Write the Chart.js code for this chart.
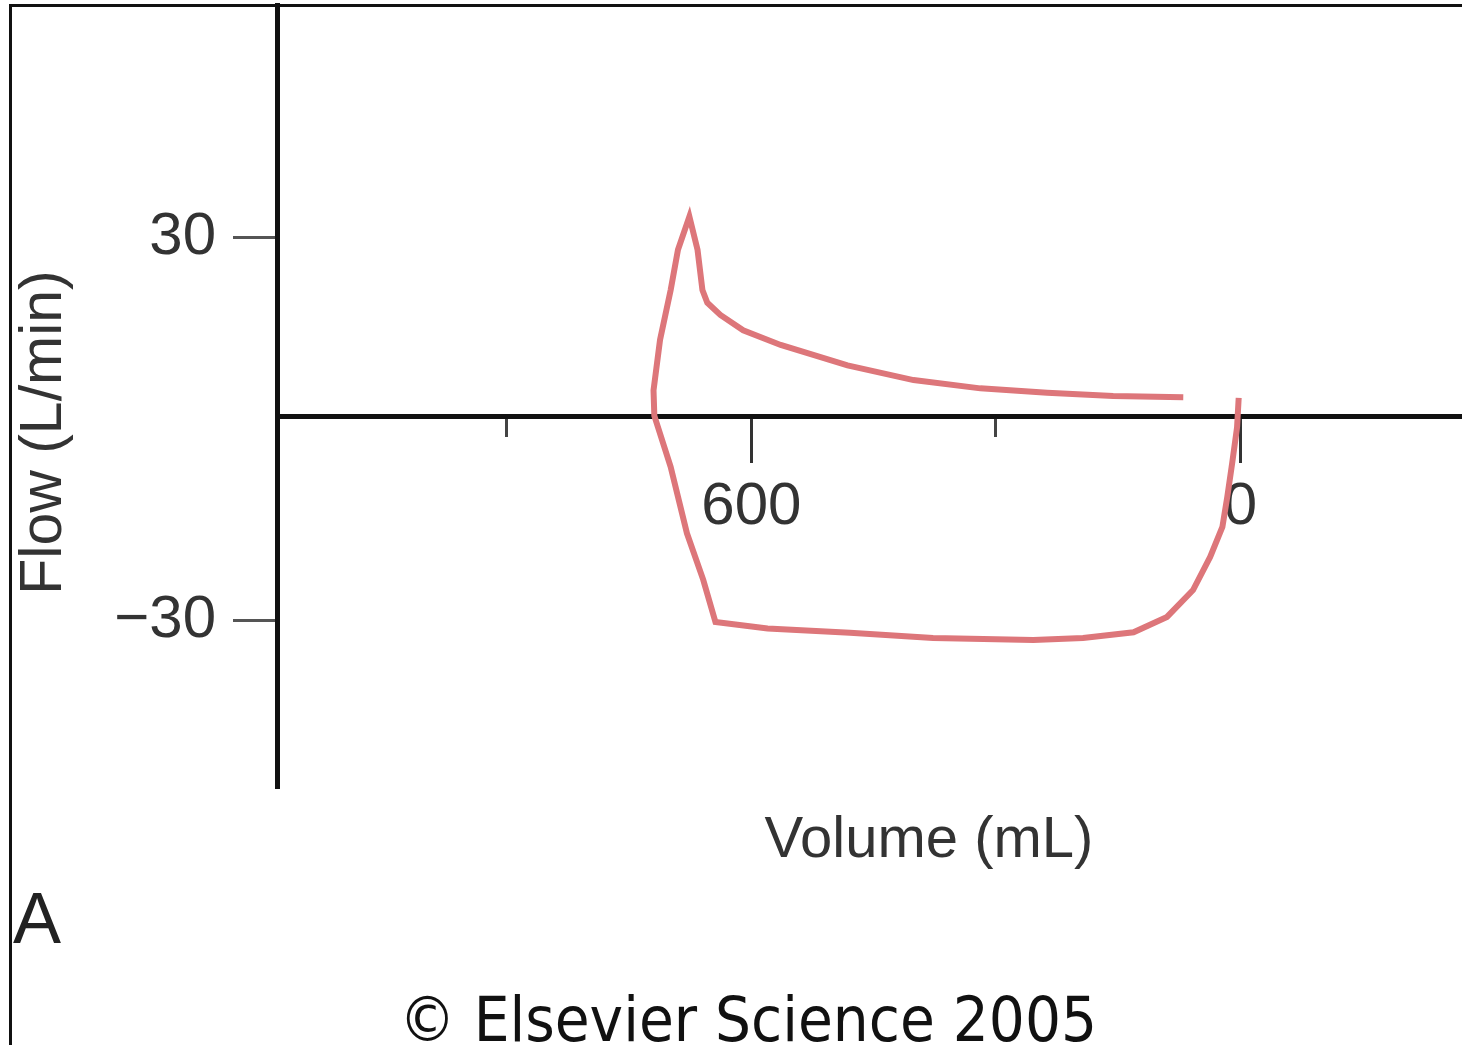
<!DOCTYPE html>
<html>
<head>
<meta charset="utf-8">
<title>Flow-volume loop</title>
<script src="https://cdn.jsdelivr.net/npm/chart.js@4.4.1/dist/chart.umd.min.js"></script>
<style>
  html, body { margin: 0; padding: 0; background: #fff; overflow: hidden; }
  body { width: 1462px; height: 1045px; position: relative; }
  #chart { position: absolute; left: 0; top: 0; }
  .frame {
    position: absolute; left: 9px; top: 4px; width: 1500px; height: 1100px;
    border-top: 3px solid #111; border-left: 3px solid #111; pointer-events: none;
  }
  .txt { position: absolute; white-space: nowrap; line-height: 1; font-family: "Liberation Sans", Arial, sans-serif; color: #333; }
  #ytitle { left: -159px; top: 403px; width: 400px; height: 59px; font-size: 59px; text-align: center; transform: rotate(-90deg); }
  #xtitle { left: 629px; top: 808px; width: 600px; font-size: 58px; text-align: center; }
  #panel { left: 13px; top: 882px; font-size: 72px; color: #222; }
  #copy { left: 348px; top: 988px; width: 800px; font-size: 63px; text-align: center; color: #111;
          font-family: "DejaVu Sans Condensed", "DejaVu Sans", sans-serif; }
</style>
</head>
<body>
<canvas id="chart" width="1462" height="1045"></canvas>
<div class="frame"></div>
<div class="txt" id="ytitle">Flow (L/min)</div>
<div class="txt" id="xtitle">Volume (mL)</div>
<div class="txt" id="panel">A</div>
<div class="txt" id="copy">© Elsevier Science 2005</div>
<script>
// valores (volume em mL, fluxo em L/min)
const VOLUME = [2, 4, 10, 16, 22, 37, 58, 90, 131, 193, 254, 377, 479, 580, 644, 659, 679, 699,
                719, 720, 712, 699, 690, 676, 666, 660, 654, 638, 610, 564, 482, 401, 319, 237, 156, 70];
const FLOW = [4.8, 0.2, -5.4, -10.7, -15.4, -20.1, -25.3, -29.5, -31.9, -32.8, -33.1, -32.8, -32.0, -31.3, -30.3, -23.7, -16.4, -6.0,
              2.0, 6.0, 13.9, 21.7, 28.0, 33.2, 28.0, 21.7, 19.7, 17.8, 15.4, 13.1, 9.9, 7.6, 6.3, 5.6, 5.1, 4.9];

// marcas dos eixos
const X_MAJOR_TICKS = [0, 600];
const X_MINOR_TICKS = [300, 900];
const Y_TICKS = [-30, 30];
const Y_TICK_LABELS = ['\u221230', '30'];

// limites dos eixos e posição do eixo horizontal
const X_MIN = -272, X_MAX = 1182;
const Y_MIN = -56.3, Y_MAX = 66.35;
const X_AXIS_AT = 1.96;

const tickFont = { family: 'Liberation Sans', size: 60 };

const points = VOLUME.map((v, i) => ({ x: v, y: FLOW[i] }));

const ctx = document.getElementById('chart').getContext('2d');

new Chart(ctx, {
    type: 'scatter',
    data: {
        datasets: [{
            data: points,
            showLine: true,
            borderColor: 'rgb(221, 118, 122)',
            borderWidth: 6,
            pointRadius: 0,
            tension: 0,
            borderJoinStyle: 'miter',
            xAxisID: 'x',
            yAxisID: 'y'
        }]
    },
    options: {
        responsive: false,
        animation: false,
        devicePixelRatio: 1,
        layout: { padding: { top: 5, bottom: 257, left: 0, right: 0 } },
        plugins: { legend: { display: false }, tooltip: { enabled: false } },
        scales: {
            x: {
                type: 'linear',
                min: X_MIN, max: X_MAX,
                reverse: true,
                position: { y: X_AXIS_AT },
                border: { display: true, color: '#111', width: 5 },
                grid: { display: true, drawOnChartArea: false, drawTicks: true, tickLength: 44, tickWidth: 3, tickColor: '#333' },
                ticks: { padding: 11, font: tickFont, color: '#333', maxRotation: 0, autoSkip: false,
                         callback: v => String(v) },
                afterBuildTicks: s => { s.ticks = X_MAJOR_TICKS.map(v => ({ value: v })); },
                afterFit: s => { s.paddingLeft = 0; s.paddingRight = 0; }
            },
            x2: {
                type: 'linear',
                axis: 'x',
                min: X_MIN, max: X_MAX,
                reverse: true,
                position: { y: X_AXIS_AT },
                border: { display: false },
                grid: { display: true, drawOnChartArea: false, drawTicks: true, tickLength: 21, tickWidth: 3, tickColor: '#444' },
                ticks: { display: false },
                afterBuildTicks: s => { s.ticks = X_MINOR_TICKS.map(v => ({ value: v })); }
            },
            y: {
                type: 'linear',
                min: Y_MIN, max: Y_MAX,
                position: 'left',
                border: { display: true, color: '#111', width: 5 },
                grid: { display: true, drawOnChartArea: false, drawTicks: true, tickLength: 44, tickWidth: 3, tickColor: '#555' },
                ticks: { padding: 17, font: tickFont, color: '#333',
                         callback: v => Y_TICK_LABELS[Y_TICKS.indexOf(v)] },
                afterBuildTicks: s => { s.ticks = Y_TICKS.map(v => ({ value: v })); },
                afterFit: s => { s.width = 277; s.paddingTop = 0; s.paddingBottom = 0; }
            }
        }
    }
});
</script>
</body>
</html>
